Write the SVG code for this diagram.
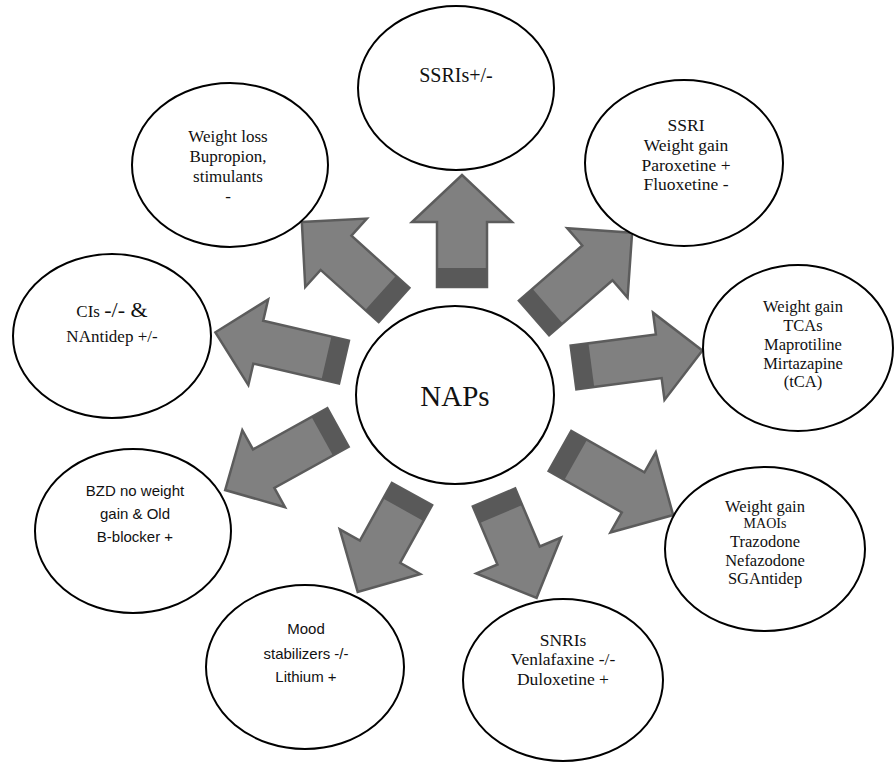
<svg xmlns="http://www.w3.org/2000/svg" width="896" height="763" viewBox="0 0 896 763">
<style>
.node ellipse{fill:#fff;stroke:#000;stroke-width:2}
.serif{font-family:"Liberation Serif","Times New Roman",serif;fill:#111;text-anchor:middle}
.sans{font-family:"Liberation Sans",Arial,sans-serif;fill:#111;text-anchor:middle}
.arrow polygon{fill:#808080;stroke:#5c5c5c;stroke-width:2.5;stroke-linejoin:miter}
.arrow rect{fill:#595959}
</style>
<rect width="896" height="763" fill="#fff"/>
<g id="connectors">
  <g class="arrow" transform="translate(462,287) rotate(0)">
    <polygon points="-25,0 25,0 25,-65 50,-65 0,-112 -50,-65 -25,-65"/>
    <rect x="-25" y="-19" width="50" height="19"/>
  </g>
  <g class="arrow" transform="translate(394,305) rotate(-48)">
    <polygon points="-23,0 23,0 23,-78 46,-78 0,-124 -46,-78 -23,-78"/>
    <rect x="-23" y="-18" width="46" height="18"/>
  </g>
  <g class="arrow" transform="translate(534,318) rotate(49)">
    <polygon points="-23,0 23,0 23,-84 46,-84 0,-130 -46,-84 -23,-84"/>
    <rect x="-23" y="-18" width="46" height="18"/>
  </g>
  <g class="arrow" transform="translate(344,362) rotate(-77)">
    <polygon points="-22,0 22,0 22,-88 44,-88 0,-132 -44,-88 -22,-88"/>
    <rect x="-22" y="-18" width="44" height="18"/>
  </g>
  <g class="arrow" transform="translate(573.5,367.5) rotate(82.5)">
    <polygon points="-22,0 22,0 22,-86 44,-86 0,-130 -44,-86 -22,-86"/>
    <rect x="-22" y="-18" width="44" height="18"/>
  </g>
  <g class="arrow" transform="translate(338,427.5) rotate(-119)">
    <polygon points="-22,0 22,0 22,-85 44,-85 0,-129 -44,-85 -22,-85"/>
    <rect x="-22" y="-18" width="44" height="18"/>
  </g>
  <g class="arrow" transform="translate(412,494) rotate(-151)">
    <polygon points="-23,0 23,0 23,-66 46,-66 0,-112 -46,-66 -23,-66"/>
    <rect x="-23" y="-18" width="46" height="18"/>
  </g>
  <g class="arrow" transform="translate(494,497.5) rotate(157)">
    <polygon points="-23,0 23,0 23,-63 46,-63 0,-109 -46,-63 -23,-63"/>
    <rect x="-23" y="-18" width="46" height="18"/>
  </g>
  <g class="arrow" transform="translate(560,451) rotate(119.5)">
    <polygon points="-23,0 23,0 23,-84 46,-84 0,-130 -46,-84 -23,-84"/>
    <rect x="-23" y="-18" width="46" height="18"/>
  </g>
</g>
<g id="nap" class="node">
  <ellipse cx="455" cy="395" rx="99" ry="89"/>
  <text class="serif" x="455" y="406" font-size="29">NAPs</text>
</g>
<g id="ssris" class="node">
  <ellipse cx="456" cy="88" rx="98" ry="82"/>
  <text class="serif" x="456" y="82" font-size="20">SSRIs+/-</text>
</g>
<g id="weightloss" class="node">
  <ellipse cx="230" cy="165" rx="98" ry="82"/>
  <text class="serif" font-size="17"><tspan x="228" y="142">Weight loss</tspan><tspan x="228" y="162">Bupropion,</tspan><tspan x="228" y="182">stimulants</tspan><tspan x="228" y="202">-</tspan></text>
</g>
<g id="ssri" class="node">
  <ellipse cx="684" cy="163" rx="99" ry="83"/>
  <text class="serif" font-size="17.5"><tspan x="686" y="131">SSRI</tspan><tspan x="686" y="151">Weight gain</tspan><tspan x="686" y="171">Paroxetine +</tspan><tspan x="686" y="190">Fluoxetine -</tspan></text>
</g>
<g id="cis" class="node">
  <ellipse cx="112" cy="336" rx="99" ry="82"/>
  <text class="serif" font-size="17"><tspan x="112" y="317">CIs <tspan font-size="22">-/- &amp;</tspan></tspan><tspan x="112" y="342">NAntidep +/-</tspan></text>
</g>
<g id="tcas" class="node">
  <ellipse cx="798" cy="348" rx="95" ry="83"/>
  <text class="serif" font-size="16.5"><tspan x="803" y="312">Weight gain</tspan><tspan x="803" y="331">TCAs</tspan><tspan x="803" y="350">Maprotiline</tspan><tspan x="803" y="368.5">Mirtazapine</tspan><tspan x="803" y="387">(tCA)</tspan></text>
</g>
<g id="bzd" class="node">
  <ellipse cx="133" cy="531" rx="98" ry="82"/>
  <text class="sans" font-size="15"><tspan x="135" y="496">BZD no weight</tspan><tspan x="135" y="519">gain &amp; Old</tspan><tspan x="135" y="542">B-blocker +</tspan></text>
</g>
<g id="maois" class="node">
  <ellipse cx="765" cy="549" rx="100" ry="82"/>
  <text class="serif" font-size="16.5"><tspan x="765" y="512">Weight gain</tspan><tspan x="765" y="527.5" font-size="14">MAOIs</tspan><tspan x="765" y="547">Trazodone</tspan><tspan x="765" y="566">Nefazodone</tspan><tspan x="765" y="583.5">SGAntidep</tspan></text>
</g>
<g id="mood" class="node">
  <ellipse cx="305" cy="667" rx="99" ry="82"/>
  <text class="sans" font-size="15"><tspan x="306" y="634">Mood</tspan><tspan x="306" y="659">stabilizers -/-</tspan><tspan x="306" y="682">Lithium +</tspan></text>
</g>
<g id="snris" class="node">
  <ellipse cx="563" cy="680" rx="100" ry="81"/>
  <text class="serif" font-size="17.5"><tspan x="563" y="646">SNRIs</tspan><tspan x="563" y="665">Venlafaxine -/-</tspan><tspan x="563" y="685">Duloxetine +</tspan></text>
</g>
</svg>
